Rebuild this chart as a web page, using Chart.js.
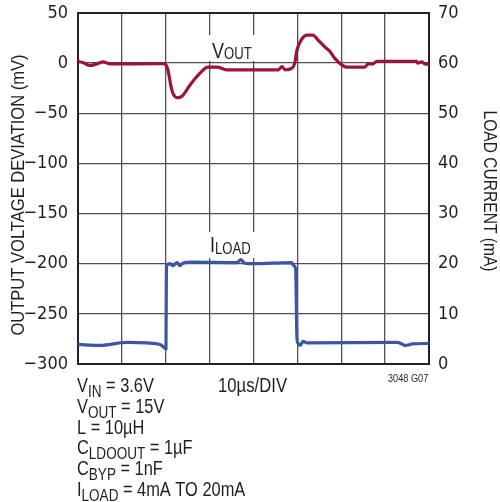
<!DOCTYPE html>
<html>
<head>
<meta charset="utf-8">
<script src="https://cdn.jsdelivr.net/npm/chart.js@4.4.1/dist/chart.umd.min.js"></script>
<style>
  html, body { margin: 0; padding: 0; background: #fff; }
  #wrap { width: 500px; height: 502px; }
</style>
</head>
<body>
<div id="wrap"><canvas id="chart" width="500" height="502"></canvas></div>
<script>
// time axis (µs), 10µs per division
const timeTicks = [0, 10, 20, 30, 40, 50, 60, 70, 80];
const voutTicks = [-300, -250, -200, -150, -100, -50, 0, 50];   // mV, left
const iloadTicks = [0, 10, 20, 30, 40, 50, 60, 70];             // mA, right

// output voltage deviation trace
const voutTime = [0, 1.1, 2.7, 4.3, 5.7, 7.3, 19.4, 20.0, 20.5, 21.4, 22.6, 23.7, 25.5, 27.8, 29.6,
  31.7, 33.9, 45.6, 46.5, 47.2, 48.7, 49.4, 49.9, 51.0, 52.2, 53.5, 54.7, 56.3, 57.4, 58.5, 60.1,
  61.3, 65.4, 66.1, 67.2, 68.1, 77.2, 77.4, 78.4, 79.0, 80];
const voutMv = [1.7, 0.7, -2.3, -0.7, 1.3, -0.8, -0.5, -1.5, -7, -27, -34.5, -33, -22, -10, -4,
  -4, -6.7, -6.7, -3.5, -6.7, -5.3, 0, 13, 24, 28, 28, 23, 16, 11.7, 5, -1.7,
  -4, -4, -0.7, -0.7, 1.7, 1.7, 0, 1.3, -0.7, -1];

// load current step
const iloadTime = [0, 5.0, 11.2, 15.7, 18.7, 19.9, 20.05, 20.15, 21.0, 21.6, 22.6, 23.2, 23.9, 26.2,
  36.2, 37.1, 38.0, 39.9, 48.7, 49.2, 49.6, 49.9, 50.1, 50.6, 51.3, 52.2, 72.7, 73.8, 74.5, 76.3, 80];
const iloadMa = [3.9, 3.7, 4.3, 4.2, 3.9, 3.1, 3.0, 19.4, 20.0, 19.6, 20.2, 19.6, 20.1, 20.3,
  20.2, 20.8, 20.1, 20.0, 20.2, 19.6, 18.9, 5.2, 4.2, 3.7, 4.5, 4.2, 4.3, 4.0, 3.7, 4.0, 4.1];

// conditions printed under the graph: [main, subscript, rest]
const noteLines = [
  ['V', 'IN', ' = 3.6V'],
  ['V', 'OUT', ' = 15V'],
  ['L = 10µH', '', ''],
  ['C', 'LDOOUT', ' = 1µF'],
  ['C', 'BYP', ' = 1nF'],
  ['I', 'LOAD', ' = 4mA TO 20mA']
];

const TICKFONT = '"DejaVu Sans Condensed", "Liberation Sans", sans-serif';
const FONT = '"Liberation Sans", Arial, sans-serif';
const INK = '#231f20';
const GRID = '#505050';
const RED = '#9c1538';
const BLUE = '#3b56a6';

function minus(v) { return String(v).replace('-', '\u2212'); }

// text with a dropped, smaller subscript, squeezed horizontally by `sq`
function drawSub(ctx, x, y, parts, big, small, drop, sq) {
  ctx.save();
  ctx.translate(x, y);
  ctx.scale(sq, 1);
  let cx = 0;
  ctx.font = big + 'px ' + FONT;
  ctx.fillText(parts[0], cx, 0);
  cx += ctx.measureText(parts[0]).width;
  if (parts[1]) {
    ctx.font = small + 'px ' + FONT;
    ctx.fillText(parts[1], cx, drop);
    cx += ctx.measureText(parts[1]).width;
  }
  if (parts[2]) {
    ctx.font = big + 'px ' + FONT;
    ctx.fillText(parts[2], cx, 0);
  }
  ctx.restore();
}

function drawTitle(ctx, text, x, y, angle, size, sq) {
  ctx.save();
  ctx.translate(x, y);
  ctx.rotate(angle);
  ctx.scale(sq, 1);
  ctx.font = size + 'px ' + FONT;
  ctx.textAlign = 'center';
  ctx.textBaseline = 'middle';
  ctx.fillText(text, 0, 0);
  ctx.restore();
}

const decorations = {
  id: 'decorations',
  beforeDatasetsDraw(chart) {
    const { ctx, chartArea: a } = chart;
    ctx.save();
    // white patches where the trace labels break the grid
    ctx.fillStyle = '#fff';
    ctx.fillRect(207, 35, 50, 26);
    ctx.fillRect(207, 232, 50, 26);
    ctx.fillStyle = INK;
    ctx.textAlign = 'left';
    ctx.textBaseline = 'alphabetic';
    drawSub(ctx, 212, 58, ['V', 'OUT', ''], 22, 16, 1, 0.82);
    drawSub(ctx, 210, 252, ['I', 'LOAD', ''], 22, 16, 2, 0.82);
    // frame
    ctx.strokeStyle = '#222';
    ctx.lineWidth = 2;
    ctx.strokeRect(a.left, a.top, a.right - a.left, a.bottom - a.top);
    ctx.restore();
  },
  afterDraw(chart) {
    const { ctx } = chart;
    ctx.save();
    ctx.fillStyle = INK;
    ctx.textBaseline = 'alphabetic';
    ctx.textAlign = 'left';
    noteLines.forEach((p, i) => drawSub(ctx, 77, 392 + i * 20.8, p, 20, 16.5, 5, 0.82));
    drawSub(ctx, 218, 392, ['10µs/DIV', '', ''], 20, 16, 0, 0.835);
    drawSub(ctx, 388, 381.5, ['3048 G07', '', ''], 11.6, 11.6, 0, 0.79);
    // axis titles
    drawTitle(ctx, 'OUTPUT VOLTAGE DEVIATION (mV)', 19, 195, -Math.PI / 2, 17.5, 0.945);
    drawTitle(ctx, 'LOAD CURRENT (mA)', 489, 191, Math.PI / 2, 19, 0.82);
    ctx.restore();
  }
};

const ctx = document.getElementById('chart').getContext('2d');
new Chart(ctx, {
  type: 'line',
  data: {
    datasets: [
      {
        label: 'VOUT',
        data: voutTime.map((t, i) => ({ x: t, y: voutMv[i] })),
        yAxisID: 'y',
        borderColor: RED,
        borderWidth: 3.2,
        pointRadius: 0,
        cubicInterpolationMode: 'monotone',
        borderJoinStyle: 'round',
        borderCapStyle: 'round'
      },
      {
        label: 'ILOAD',
        data: iloadTime.map((t, i) => ({ x: t, y: iloadMa[i] })),
        yAxisID: 'y1',
        borderColor: BLUE,
        borderWidth: 3.2,
        pointRadius: 0,
        cubicInterpolationMode: 'monotone',
        borderJoinStyle: 'round',
        borderCapStyle: 'round'
      }
    ]
  },
  options: {
    responsive: false,
    animation: false,
    devicePixelRatio: 1,
    layout: { padding: { top: 13, left: 0, right: 0, bottom: 0 } },
    plugins: { legend: { display: false }, tooltip: { enabled: false } },
    scales: {
      x: {
        type: 'linear',
        min: timeTicks[0],
        max: timeTicks[timeTicks.length - 1],
        ticks: { stepSize: timeTicks[1] - timeTicks[0], display: false },
        grid: { color: GRID, lineWidth: 1.3, drawTicks: false },
        border: { display: false },
        afterFit: s => { s.height = 138; s.paddingLeft = 0; s.paddingRight = 0; }
      },
      y: {
        position: 'left',
        min: voutTicks[0],
        max: voutTicks[voutTicks.length - 1],
        ticks: {
          stepSize: voutTicks[1] - voutTicks[0],
          color: INK,
          padding: 10,
          font: { family: TICKFONT, size: 18 },
          callback: v => minus(v)
        },
        grid: { color: GRID, lineWidth: 1.3, drawTicks: false },
        border: { display: false },
        afterFit: s => { s.width = 78; s.paddingTop = 0; s.paddingBottom = 0; }
      },
      y1: {
        position: 'right',
        min: iloadTicks[0],
        max: iloadTicks[iloadTicks.length - 1],
        ticks: {
          stepSize: iloadTicks[1] - iloadTicks[0],
          color: INK,
          padding: 9,
          font: { family: TICKFONT, size: 18 }
        },
        grid: { display: false, drawTicks: false },
        border: { display: false },
        afterFit: s => { s.width = 71; s.paddingTop = 0; s.paddingBottom = 0; }
      }
    }
  },
  plugins: [decorations]
});
</script>
</body>
</html>
